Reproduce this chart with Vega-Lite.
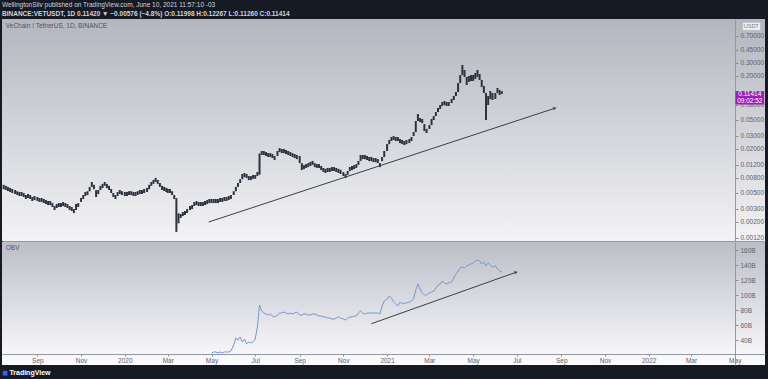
{
"$schema": "https://vega.github.io/schema/vega-lite/v6.json",
"autosize": {"type": "pad"},
"padding": {"left": 2, "top": 2, "right": 3, "bottom": 4},
"background": "#161a25",
"spacing": 0,
"config": {"font": "Liberation Sans", "view": {"stroke": null}, "axis": {"labelOverlap": false, "labelSeparation": 0}},
"datasets": {
"px": [
{"t":"2019-07-16","l":0.00557,"h":0.0064},{"t":"2019-07-19","l":0.00544,"h":0.0062},{"t":"2019-07-22","l":0.00526,"h":0.006},{"t":"2019-07-25","l":0.00511,"h":0.00581},{"t":"2019-07-28","l":0.00494,"h":0.00562},
{"t":"2019-08-01","l":0.00479,"h":0.00543},{"t":"2019-08-04","l":0.00464,"h":0.00523},{"t":"2019-08-07","l":0.0045,"h":0.00511},{"t":"2019-08-10","l":0.0045,"h":0.00511},{"t":"2019-08-13","l":0.00436,"h":0.00494},{"t":"2019-08-16","l":0.00409,"h":0.00464},{"t":"2019-08-19","l":0.00422,"h":0.0048},{"t":"2019-08-22","l":0.00409,"h":0.00464},{"t":"2019-08-25","l":0.00384,"h":0.00436},{"t":"2019-08-28","l":0.00396,"h":0.0045},
{"t":"2019-09-01","l":0.00384,"h":0.00436},{"t":"2019-09-04","l":0.00373,"h":0.00422},{"t":"2019-09-07","l":0.00373,"h":0.00422},{"t":"2019-09-10","l":0.0036,"h":0.00409},{"t":"2019-09-13","l":0.00349,"h":0.00396},{"t":"2019-09-16","l":0.00338,"h":0.00384},{"t":"2019-09-19","l":0.00338,"h":0.00384},{"t":"2019-09-22","l":0.00318,"h":0.0036},{"t":"2019-09-25","l":0.00289,"h":0.00328},{"t":"2019-09-28","l":0.00308,"h":0.0035},
{"t":"2019-10-01","l":0.00318,"h":0.0036},{"t":"2019-10-04","l":0.00318,"h":0.0036},{"t":"2019-10-07","l":0.00328,"h":0.00372},{"t":"2019-10-10","l":0.00318,"h":0.0036},{"t":"2019-10-13","l":0.00308,"h":0.0035},{"t":"2019-10-16","l":0.00289,"h":0.00328},{"t":"2019-10-19","l":0.0028,"h":0.00318},{"t":"2019-10-22","l":0.00263,"h":0.00298},{"t":"2019-10-25","l":0.00289,"h":0.0035},{"t":"2019-10-28","l":0.00318,"h":0.0036},
{"t":"2019-11-01","l":0.00373,"h":0.00422},{"t":"2019-11-04","l":0.00409,"h":0.00464},{"t":"2019-11-07","l":0.0045,"h":0.00511},{"t":"2019-11-10","l":0.00464,"h":0.00523},{"t":"2019-11-13","l":0.00523,"h":0.006},{"t":"2019-11-16","l":0.006,"h":0.007},{"t":"2019-11-19","l":0.00557,"h":0.0064},{"t":"2019-11-22","l":0.00436,"h":0.0054},{"t":"2019-11-25","l":0.00479,"h":0.00543},{"t":"2019-11-28","l":0.00544,"h":0.0062},
{"t":"2019-12-01","l":0.00578,"h":0.0066},{"t":"2019-12-04","l":0.0062,"h":0.007},{"t":"2019-12-07","l":0.00578,"h":0.0066},{"t":"2019-12-10","l":0.00544,"h":0.0062},{"t":"2019-12-13","l":0.00494,"h":0.00562},{"t":"2019-12-16","l":0.00436,"h":0.00494},{"t":"2019-12-19","l":0.00409,"h":0.00464},{"t":"2019-12-22","l":0.0045,"h":0.00511},{"t":"2019-12-25","l":0.00479,"h":0.00543},{"t":"2019-12-28","l":0.00464,"h":0.00523},
{"t":"2020-01-01","l":0.0045,"h":0.00511},{"t":"2020-01-04","l":0.0045,"h":0.00511},{"t":"2020-01-07","l":0.00464,"h":0.00523},{"t":"2020-01-10","l":0.00464,"h":0.00523},{"t":"2020-01-13","l":0.0045,"h":0.00511},{"t":"2020-01-16","l":0.0045,"h":0.00511},{"t":"2020-01-19","l":0.00464,"h":0.00523},{"t":"2020-01-22","l":0.00479,"h":0.00543},{"t":"2020-01-25","l":0.00479,"h":0.00543},{"t":"2020-01-28","l":0.00494,"h":0.00562},
{"t":"2020-02-01","l":0.00511,"h":0.00581},{"t":"2020-02-04","l":0.00557,"h":0.0064},{"t":"2020-02-07","l":0.0062,"h":0.007},{"t":"2020-02-10","l":0.0066,"h":0.00746},{"t":"2020-02-13","l":0.007,"h":0.00795},{"t":"2020-02-16","l":0.0066,"h":0.00746},{"t":"2020-02-19","l":0.006,"h":0.00678},{"t":"2020-02-22","l":0.00544,"h":0.0062},{"t":"2020-02-25","l":0.00526,"h":0.006},{"t":"2020-02-28","l":0.00511,"h":0.00581},
{"t":"2020-03-01","l":0.00494,"h":0.00562},{"t":"2020-03-04","l":0.00494,"h":0.00562},{"t":"2020-03-07","l":0.00464,"h":0.00523},{"t":"2020-03-10","l":0.00409,"h":0.00464},{"t":"2020-03-13","l":0.00145,"h":0.0042},{"t":"2020-03-16","l":0.0019,"h":0.0026},{"t":"2020-03-19","l":0.00225,"h":0.00255},{"t":"2020-03-22","l":0.00239,"h":0.00271},{"t":"2020-03-25","l":0.00247,"h":0.0028},{"t":"2020-03-28","l":0.00263,"h":0.00298},
{"t":"2020-04-01","l":0.00289,"h":0.00328},{"t":"2020-04-04","l":0.00298,"h":0.00338},{"t":"2020-04-07","l":0.00328,"h":0.00372},{"t":"2020-04-10","l":0.00338,"h":0.00384},{"t":"2020-04-13","l":0.00328,"h":0.00372},{"t":"2020-04-16","l":0.00328,"h":0.00372},{"t":"2020-04-19","l":0.00328,"h":0.00372},{"t":"2020-04-22","l":0.00338,"h":0.00384},{"t":"2020-04-25","l":0.00349,"h":0.00396},{"t":"2020-04-28","l":0.0036,"h":0.00409},
{"t":"2020-05-01","l":0.0036,"h":0.00409},{"t":"2020-05-04","l":0.0036,"h":0.00409},{"t":"2020-05-07","l":0.0036,"h":0.00409},{"t":"2020-05-10","l":0.0036,"h":0.00409},{"t":"2020-05-13","l":0.00373,"h":0.00422},{"t":"2020-05-16","l":0.00373,"h":0.00422},{"t":"2020-05-19","l":0.00384,"h":0.00436},{"t":"2020-05-22","l":0.00384,"h":0.00436},{"t":"2020-05-25","l":0.00396,"h":0.0045},{"t":"2020-05-28","l":0.00409,"h":0.00464},
{"t":"2020-06-01","l":0.00464,"h":0.00523},{"t":"2020-06-04","l":0.00523,"h":0.006},{"t":"2020-06-07","l":0.006,"h":0.00678},{"t":"2020-06-10","l":0.00678,"h":0.00765},{"t":"2020-06-13","l":0.00765,"h":0.009},{"t":"2020-06-16","l":0.00815,"h":0.0093},{"t":"2020-06-19","l":0.00795,"h":0.009},{"t":"2020-06-22","l":0.00743,"h":0.00843},{"t":"2020-06-25","l":0.00743,"h":0.00843},{"t":"2020-06-28","l":0.00774,"h":0.00872},
{"t":"2020-07-01","l":0.00774,"h":0.00872},{"t":"2020-07-04","l":0.00846,"h":0.0096},{"t":"2020-07-07","l":0.0088,"h":0.0172},{"t":"2020-07-10","l":0.0164,"h":0.0186},{"t":"2020-07-13","l":0.0164,"h":0.0186},{"t":"2020-07-16","l":0.0159,"h":0.018},{"t":"2020-07-19","l":0.0154,"h":0.0174},{"t":"2020-07-22","l":0.0154,"h":0.0174},{"t":"2020-07-25","l":0.0149,"h":0.0169},{"t":"2020-07-28","l":0.014,"h":0.0159},
{"t":"2020-08-01","l":0.0159,"h":0.0186},{"t":"2020-08-04","l":0.018,"h":0.0204},{"t":"2020-08-07","l":0.0174,"h":0.0198},{"t":"2020-08-10","l":0.0174,"h":0.0198},{"t":"2020-08-13","l":0.0169,"h":0.0192},{"t":"2020-08-16","l":0.0164,"h":0.0186},{"t":"2020-08-19","l":0.0159,"h":0.018},{"t":"2020-08-22","l":0.0154,"h":0.0174},{"t":"2020-08-25","l":0.0149,"h":0.0169},{"t":"2020-08-28","l":0.0144,"h":0.0164},
{"t":"2020-09-01","l":0.0127,"h":0.0159},{"t":"2020-09-04","l":0.0102,"h":0.0127},{"t":"2020-09-07","l":0.0105,"h":0.0119},{"t":"2020-09-10","l":0.0109,"h":0.0123},{"t":"2020-09-13","l":0.0112,"h":0.0127},{"t":"2020-09-16","l":0.0116,"h":0.0132},{"t":"2020-09-19","l":0.012,"h":0.0136},{"t":"2020-09-22","l":0.0112,"h":0.0127},{"t":"2020-09-25","l":0.0109,"h":0.0123},{"t":"2020-09-28","l":0.0109,"h":0.0123},
{"t":"2020-10-01","l":0.0102,"h":0.0116},{"t":"2020-10-04","l":0.0096,"h":0.0109},{"t":"2020-10-07","l":0.0093,"h":0.0106},{"t":"2020-10-10","l":0.0096,"h":0.0109},{"t":"2020-10-13","l":0.0096,"h":0.0109},{"t":"2020-10-16","l":0.0099,"h":0.0112},{"t":"2020-10-19","l":0.0099,"h":0.0112},{"t":"2020-10-22","l":0.0096,"h":0.0109},{"t":"2020-10-25","l":0.0093,"h":0.0106},{"t":"2020-10-28","l":0.009,"h":0.0103},
{"t":"2020-11-01","l":0.00846,"h":0.0096},{"t":"2020-11-04","l":0.00795,"h":0.009},{"t":"2020-11-07","l":0.00877,"h":0.0099},{"t":"2020-11-10","l":0.0099,"h":0.0112},{"t":"2020-11-13","l":0.0102,"h":0.0116},{"t":"2020-11-16","l":0.0105,"h":0.0119},{"t":"2020-11-19","l":0.0109,"h":0.0123},{"t":"2020-11-22","l":0.012,"h":0.0136},{"t":"2020-11-25","l":0.0136,"h":0.0164},{"t":"2020-11-28","l":0.0144,"h":0.0164},
{"t":"2020-12-01","l":0.0144,"h":0.0164},{"t":"2020-12-04","l":0.014,"h":0.0159},{"t":"2020-12-07","l":0.0135,"h":0.0154},{"t":"2020-12-10","l":0.0135,"h":0.0154},{"t":"2020-12-13","l":0.0131,"h":0.0149},{"t":"2020-12-16","l":0.0131,"h":0.0149},{"t":"2020-12-19","l":0.0127,"h":0.0144},{"t":"2020-12-22","l":0.0112,"h":0.0127},{"t":"2020-12-25","l":0.0135,"h":0.0154},{"t":"2020-12-28","l":0.0154,"h":0.0186},
{"t":"2021-01-01","l":0.0186,"h":0.0232},{"t":"2021-01-04","l":0.0231,"h":0.0263},{"t":"2021-01-07","l":0.0255,"h":0.0289},{"t":"2021-01-10","l":0.0263,"h":0.0298},{"t":"2021-01-13","l":0.0255,"h":0.0289},{"t":"2021-01-16","l":0.0255,"h":0.0289},{"t":"2021-01-19","l":0.0239,"h":0.0271},{"t":"2021-01-22","l":0.0231,"h":0.0263},{"t":"2021-01-25","l":0.0224,"h":0.0255},{"t":"2021-01-28","l":0.0231,"h":0.0263},
{"t":"2021-02-01","l":0.0239,"h":0.0271},{"t":"2021-02-04","l":0.0255,"h":0.0289},{"t":"2021-02-07","l":0.0298,"h":0.0338},{"t":"2021-02-10","l":0.0338,"h":0.0479},{"t":"2021-02-13","l":0.0479,"h":0.0597},{"t":"2021-02-16","l":0.0463,"h":0.0526},{"t":"2021-02-19","l":0.0449,"h":0.051},{"t":"2021-02-22","l":0.0349,"h":0.0435},{"t":"2021-02-25","l":0.0328,"h":0.0372},
{"t":"2021-03-01","l":0.0372,"h":0.0422},{"t":"2021-03-04","l":0.0422,"h":0.051},{"t":"2021-03-07","l":0.0494,"h":0.056},{"t":"2021-03-10","l":0.056,"h":0.0636},{"t":"2021-03-13","l":0.0636,"h":0.0722},{"t":"2021-03-16","l":0.0699,"h":0.0793},{"t":"2021-03-19","l":0.0769,"h":0.0872},{"t":"2021-03-22","l":0.0793,"h":0.09},{"t":"2021-03-25","l":0.0769,"h":0.0872},{"t":"2021-03-28","l":0.0769,"h":0.0872},
{"t":"2021-04-01","l":0.0845,"h":0.0959},{"t":"2021-04-04","l":0.0929,"h":0.1054},{"t":"2021-04-07","l":0.1054,"h":0.1196},{"t":"2021-04-10","l":0.1196,"h":0.1588},{"t":"2021-04-13","l":0.1588,"h":0.2044},{"t":"2021-04-16","l":0.2044,"h":0.2804},{"t":"2021-04-19","l":0.192,"h":0.2394},{"t":"2021-04-22","l":0.149,"h":0.192},{"t":"2021-04-25","l":0.1639,"h":0.198},{"t":"2021-04-28","l":0.1691,"h":0.2044},
{"t":"2021-05-01","l":0.1691,"h":0.2044},{"t":"2021-05-04","l":0.1802,"h":0.2178},{"t":"2021-05-07","l":0.192,"h":0.2394},{"t":"2021-05-10","l":0.1746,"h":0.211},{"t":"2021-05-13","l":0.14,"h":0.1746},{"t":"2021-05-16","l":0.1159,"h":0.1444},{"t":"2021-05-19","l":0.0494,"h":0.1159},{"t":"2021-05-22","l":0.0793,"h":0.1054},{"t":"2021-05-25","l":0.0959,"h":0.1233},{"t":"2021-05-28","l":0.0929,"h":0.1159},
{"t":"2021-06-01","l":0.0959,"h":0.1159},{"t":"2021-06-04","l":0.1159,"h":0.1356},{"t":"2021-06-07","l":0.1088,"h":0.1272},{"t":"2021-06-10","l":0.1126,"h":0.1227}
],
"obv": [
{"t":"2020-05-01","v":22.7},{"t":"2020-05-04","v":24.0},{"t":"2020-05-07","v":24.0},{"t":"2020-05-10","v":22.7},{"t":"2020-05-13","v":24.0},{"t":"2020-05-16","v":22.7},{"t":"2020-05-19","v":24.0},{"t":"2020-05-22","v":24.0},{"t":"2020-05-25","v":24.0},{"t":"2020-05-28","v":25.3},
{"t":"2020-06-01","v":33.3},{"t":"2020-06-04","v":42.7},{"t":"2020-06-07","v":40.0},{"t":"2020-06-10","v":44.0},{"t":"2020-06-13","v":37.3},{"t":"2020-06-16","v":41.3},{"t":"2020-06-19","v":34.7},{"t":"2020-06-22","v":37.3},{"t":"2020-06-25","v":36.0},{"t":"2020-06-28","v":37.3},
{"t":"2020-07-01","v":41.3},{"t":"2020-07-04","v":57.3},{"t":"2020-07-07","v":86.7},{"t":"2020-07-10","v":78.7},{"t":"2020-07-13","v":76.0},{"t":"2020-07-16","v":74.7},{"t":"2020-07-19","v":73.3},{"t":"2020-07-22","v":74.7},{"t":"2020-07-25","v":72.0},{"t":"2020-07-28","v":70.7},
{"t":"2020-08-01","v":73.3},{"t":"2020-08-04","v":76.0},{"t":"2020-08-07","v":76.0},{"t":"2020-08-10","v":77.3},{"t":"2020-08-13","v":76.0},{"t":"2020-08-16","v":74.7},{"t":"2020-08-19","v":76.0},{"t":"2020-08-22","v":74.7},{"t":"2020-08-25","v":76.0},{"t":"2020-08-28","v":77.3},
{"t":"2020-09-01","v":73.3},{"t":"2020-09-04","v":73.3},{"t":"2020-09-07","v":74.7},{"t":"2020-09-10","v":74.7},{"t":"2020-09-13","v":73.3},{"t":"2020-09-16","v":73.3},{"t":"2020-09-19","v":74.7},{"t":"2020-09-22","v":74.7},{"t":"2020-09-25","v":73.3},{"t":"2020-09-28","v":72.0},
{"t":"2020-10-01","v":72.0},{"t":"2020-10-04","v":70.7},{"t":"2020-10-07","v":70.7},{"t":"2020-10-10","v":69.3},{"t":"2020-10-13","v":69.3},{"t":"2020-10-16","v":68.0},{"t":"2020-10-19","v":68.0},{"t":"2020-10-22","v":69.3},{"t":"2020-10-25","v":70.7},{"t":"2020-10-28","v":69.3},
{"t":"2020-11-01","v":68.0},{"t":"2020-11-04","v":66.7},{"t":"2020-11-07","v":69.3},{"t":"2020-11-10","v":70.7},{"t":"2020-11-13","v":70.7},{"t":"2020-11-16","v":72.0},{"t":"2020-11-19","v":72.0},{"t":"2020-11-22","v":76.0},{"t":"2020-11-25","v":78.7},{"t":"2020-11-28","v":76.0},
{"t":"2020-12-01","v":74.7},{"t":"2020-12-04","v":76.0},{"t":"2020-12-07","v":76.0},{"t":"2020-12-10","v":76.0},{"t":"2020-12-13","v":76.0},{"t":"2020-12-16","v":76.0},{"t":"2020-12-19","v":76.0},{"t":"2020-12-22","v":74.7},{"t":"2020-12-25","v":85.3},{"t":"2020-12-28","v":92.0},
{"t":"2021-01-01","v":94.7},{"t":"2021-01-04","v":98.7},{"t":"2021-01-07","v":96.0},{"t":"2021-01-10","v":90.7},{"t":"2021-01-13","v":88.0},{"t":"2021-01-16","v":85.3},{"t":"2021-01-19","v":90.7},{"t":"2021-01-22","v":88.0},{"t":"2021-01-25","v":89.3},{"t":"2021-01-28","v":89.3},
{"t":"2021-02-01","v":90.7},{"t":"2021-02-04","v":92.0},{"t":"2021-02-07","v":94.7},{"t":"2021-02-10","v":106.7},{"t":"2021-02-13","v":114.7},{"t":"2021-02-16","v":108.0},{"t":"2021-02-19","v":102.7},{"t":"2021-02-22","v":100.0},{"t":"2021-02-25","v":100.0},
{"t":"2021-03-01","v":102.7},{"t":"2021-03-04","v":104.0},{"t":"2021-03-07","v":105.3},{"t":"2021-03-10","v":109.3},{"t":"2021-03-13","v":113.3},{"t":"2021-03-16","v":114.7},{"t":"2021-03-19","v":118.7},{"t":"2021-03-22","v":116.0},{"t":"2021-03-25","v":114.7},{"t":"2021-03-28","v":116.0},
{"t":"2021-04-01","v":117.3},{"t":"2021-04-04","v":122.7},{"t":"2021-04-07","v":128.0},{"t":"2021-04-10","v":132.0},{"t":"2021-04-13","v":136.0},{"t":"2021-04-16","v":137.3},{"t":"2021-04-19","v":136.0},{"t":"2021-04-22","v":138.7},{"t":"2021-04-25","v":140.0},{"t":"2021-04-28","v":141.3},
{"t":"2021-05-01","v":142.7},{"t":"2021-05-04","v":145.3},{"t":"2021-05-07","v":146.7},{"t":"2021-05-10","v":145.3},{"t":"2021-05-13","v":141.3},{"t":"2021-05-16","v":144.0},{"t":"2021-05-19","v":138.7},{"t":"2021-05-22","v":142.7},{"t":"2021-05-25","v":140.0},{"t":"2021-05-28","v":137.3},
{"t":"2021-06-01","v":138.7},{"t":"2021-06-04","v":134.7},{"t":"2021-06-07","v":132.0},{"t":"2021-06-10","v":130.7}
]
},
"vconcat": [
{
"width": 763, "height": 222,
"view": {"stroke": null, "fill": {"gradient": "linear", "x1": 0, "y1": 0, "x2": 0, "y2": 1, "stops": [{"offset": 0, "color": "#b3b6bf"}, {"offset": 1, "color": "#f3f3f5"}]}},
"title": {"text": "WellingtonSilv published on TradingView.com, June 10, 2021 11:57:10 -03", "subtitle": "BINANCE:VETUSDT, 1D  0.11420 ▼ −0.00576 (−4.8%)  O:0.11998  H:0.12267  L:0.11260  C:0.11414", "anchor": "start", "frame": "group", "orient": "top", "offset": 2, "fontSize": 6.5, "fontWeight": "normal", "color": "#d1d4dc", "subtitleFontSize": 6.5, "subtitleColor": "#d1d4dc", "subtitleFontWeight": "bold", "subtitlePadding": 2},
"layer": [
{"data": {"name": "px"},
 "mark": {"type": "rule", "color": "#2e323d", "strokeWidth": 2},
 "encoding": {
  "x": {"field": "t", "type": "temporal", "scale": {"type": "utc", "domain": [{"year": 2019, "month": 7, "date": 13, "hours": 17, "utc": true}, {"year": 2022, "month": 6, "date": 12, "hours": 5, "utc": true}]}, "axis": {"title": null, "labels": false, "ticks": false, "grid": false, "domain": true, "domainColor": "#9598a1", "domainWidth": 1}},
  "y": {"field": "l", "type": "quantitative", "scale": {"type": "log", "domain": [0.001088, 1.196], "nice": false}, "axis": {"title": null, "orient": "right", "offset": -30, "grid": false, "labelOverlap": false, "values": [0.0012, 0.002, 0.003, 0.005, 0.008, 0.012, 0.02, 0.03, 0.05, 0.08, 0.2, 0.3, 0.45, 0.7], "format": ".5f", "labelFontSize": 6.5, "labelColor": "#5d606b", "tickSize": 3, "tickColor": "#8a8d96", "domainColor": "#9598a1", "labelPadding": 2}},
  "y2": {"field": "h"}
 }},
{"mark": {"type": "rule", "color": "#c58db5", "strokeDash": [2, 2], "strokeWidth": 1},
 "encoding": {"y": {"datum": 0.11414}}},
{"data": {"values": [{"t": "2020-04-27", "p": 0.00198}, {"t": "2021-08-24", "p": 0.0722}]},
 "mark": {"type": "line", "color": "#3a3e4a", "strokeWidth": 1},
 "encoding": {"x": {"field": "t", "type": "temporal"}, "y": {"field": "p", "type": "quantitative"}}},
{"data": {"values": [{"t": "2021-08-24", "p": 0.0722}]},
 "mark": {"type": "point", "shape": "M-1,-0.6L0,0L-1,0.6", "filled": false, "stroke": "#3a3e4a", "strokeWidth": 1, "size": 25, "angle": -18},
 "encoding": {"x": {"field": "t", "type": "temporal"}, "y": {"field": "p", "type": "quantitative"}}},
{"data": {"values": [{"t": "2019-07-19", "p": 0.96, "s": "VeChain / TetherUS, 1D, BINANCE"}]},
 "mark": {"type": "text", "align": "left", "baseline": "middle", "fontSize": 6.5, "color": "#50535e"},
 "encoding": {"x": {"field": "t", "type": "temporal"}, "y": {"field": "p", "type": "quantitative"}, "text": {"field": "s"}}},
{"data": {"values": [{"a": "2022-05-12", "b": "2022-06-06", "p1": 1.076, "p2": 0.835}]},
 "mark": {"type": "rect", "fill": "#eeeff2", "stroke": "#b2b5be", "strokeWidth": 0.6},
 "encoding": {"x": {"field": "a", "type": "temporal"}, "x2": {"field": "b"}, "y": {"field": "p1", "type": "quantitative"}, "y2": {"field": "p2"}}},
{"data": {"values": [{"t": "2022-05-24", "p": 0.95, "s": "USDT"}]},
 "mark": {"type": "text", "align": "center", "baseline": "middle", "fontSize": 5.5, "color": "#787b86"},
 "encoding": {"x": {"field": "t", "type": "temporal"}, "y": {"field": "p", "type": "quantitative"}, "text": {"field": "s"}}},
{"data": {"values": [{"a": "2022-05-02", "b": "2022-06-11", "p1": 0.1233, "p2": 0.0806}]},
 "mark": {"type": "rect", "fill": "#9c1fb8"},
 "encoding": {"x": {"field": "a", "type": "temporal"}, "x2": {"field": "b"}, "y": {"field": "p1", "type": "quantitative"}, "y2": {"field": "p2"}}},
{"data": {"values": [{"t": "2022-05-22", "p": 0.1125, "s": "0.11414"}, {"t": "2022-05-22", "p": 0.0905, "s": "09:02:52"}]},
 "mark": {"type": "text", "align": "center", "baseline": "middle", "fontSize": 6.5, "color": "#ffffff"},
 "encoding": {"x": {"field": "t", "type": "temporal"}, "y": {"field": "p", "type": "quantitative"}, "text": {"field": "s"}}}
]
},
{
"width": 763, "height": 123,
"view": {"stroke": null, "fill": {"gradient": "linear", "x1": 0, "y1": 0, "x2": 0, "y2": 1, "stops": [{"offset": 0, "color": "#bcbec7"}, {"offset": 1, "color": "#fcfcfd"}]}},
"layer": [
{"data": {"name": "obv"},
 "mark": {"type": "line", "color": "#7598cd", "strokeWidth": 1},
 "encoding": {
  "x": {"field": "t", "type": "temporal", "scale": {"type": "utc", "domain": [{"year": 2019, "month": 7, "date": 13, "hours": 17, "utc": true}, {"year": 2022, "month": 6, "date": 12, "hours": 5, "utc": true}]}, "axis": {"title": null, "orient": "bottom", "offset": -11, "grid": false, "labelOverlap": false, "values": [{"year": 2019, "month": 9, "date": 1, "utc": true}, {"year": 2019, "month": 11, "date": 1, "utc": true}, {"year": 2020, "month": 1, "date": 1, "utc": true}, {"year": 2020, "month": 3, "date": 1, "utc": true}, {"year": 2020, "month": 5, "date": 1, "utc": true}, {"year": 2020, "month": 7, "date": 1, "utc": true}, {"year": 2020, "month": 9, "date": 1, "utc": true}, {"year": 2020, "month": 11, "date": 1, "utc": true}, {"year": 2021, "month": 1, "date": 1, "utc": true}, {"year": 2021, "month": 3, "date": 1, "utc": true}, {"year": 2021, "month": 5, "date": 1, "utc": true}, {"year": 2021, "month": 7, "date": 1, "utc": true}, {"year": 2021, "month": 9, "date": 1, "utc": true}, {"year": 2021, "month": 11, "date": 1, "utc": true}, {"year": 2022, "month": 1, "date": 1, "utc": true}, {"year": 2022, "month": 3, "date": 1, "utc": true}, {"year": 2022, "month": 5, "date": 1, "utc": true}], "labelExpr": "utcmonth(datum.value) == 0 ? utcFormat(datum.value, '%Y') : utcFormat(datum.value, '%b')", "labelFontSize": 6.5, "labelColor": "#5d606b", "tickSize": 2, "tickColor": "#8a8d96", "domainColor": "#9598a1", "labelPadding": 1}},
  "y": {"field": "v", "type": "quantitative", "scale": {"domain": [6.67, 170.67], "nice": false, "zero": false}, "axis": {"title": null, "orient": "right", "offset": -30, "grid": false, "labelOverlap": false, "tickCount": 7, "values": [40, 60, 80, 100, 120, 140, 160], "labelExpr": "datum.label + 'B'", "labelFontSize": 6.5, "labelColor": "#5d606b", "tickSize": 3, "tickColor": "#8a8d96", "domainColor": "#9598a1", "labelPadding": 2}}
 }},
{"data": {"values": [{"t": "2020-12-10", "v": 61.7}, {"t": "2021-07-01", "v": 130.7}]},
 "mark": {"type": "line", "color": "#3a3e4a", "strokeWidth": 1},
 "encoding": {"x": {"field": "t", "type": "temporal"}, "y": {"field": "v", "type": "quantitative"}}},
{"data": {"values": [{"t": "2021-07-01", "v": 130.7}]},
 "mark": {"type": "point", "shape": "M-1,-0.6L0,0L-1,0.6", "filled": false, "stroke": "#3a3e4a", "strokeWidth": 1, "size": 25, "angle": -19.6},
 "encoding": {"x": {"field": "t", "type": "temporal"}, "y": {"field": "v", "type": "quantitative"}}},
{"data": {"values": [{"t": "2019-07-19", "v": 162.7, "s": "OBV"}]},
 "mark": {"type": "text", "align": "left", "baseline": "middle", "fontSize": 6.5, "color": "#50535e"},
 "encoding": {"x": {"field": "t", "type": "temporal"}, "y": {"field": "v", "type": "quantitative"}, "text": {"field": "s"}}},
{"data": {"values": [{"t": "2019-07-24", "v": -4.3, "s": "TradingView"}]},
 "mark": {"type": "text", "align": "left", "baseline": "middle", "fontSize": 7, "fontWeight": "bold", "color": "#ffffff"},
 "encoding": {"x": {"field": "t", "type": "temporal"}, "y": {"field": "v", "type": "quantitative"}, "text": {"field": "s"}}},
{"data": {"values": [{"t": "2019-07-18", "v": -4.3}]},
 "mark": {"type": "point", "shape": "square", "filled": true, "color": "#2962ff", "size": 22, "opacity": 1},
 "encoding": {"x": {"field": "t", "type": "temporal"}, "y": {"field": "v", "type": "quantitative"}}}
]
}
]
}
